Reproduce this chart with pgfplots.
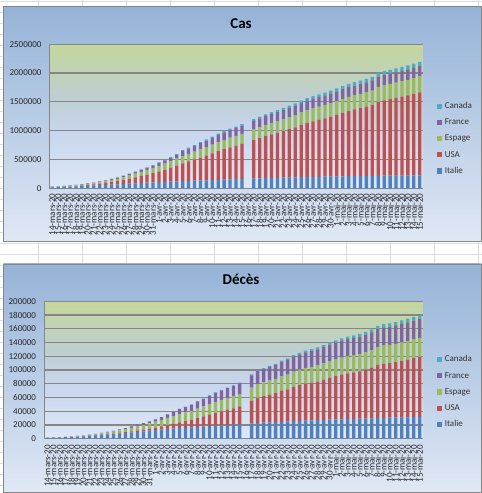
\documentclass[border=0pt]{standalone}
\usepackage{fontspec}
\setmainfont{Carlito}
\usepackage{pgfplots}
\pgfplotsset{compat=1.18}
\usepackage{pgfplotstable}

\definecolor{cIT}{HTML}{4F81BD}
\definecolor{cUS}{HTML}{C0504D}
\definecolor{cES}{HTML}{9BBB59}
\definecolor{cFR}{HTML}{8064A2}
\definecolor{cCA}{HTML}{4BACC6}
\definecolor{pb0}{RGB}{222,231,246}
\definecolor{pb1}{RGB}{199,214,238}
\definecolor{pb2}{RGB}{190,206,208}
\definecolor{pb3}{RGB}{196,215,155}
\definecolor{panTop}{RGB}{149,179,215}
\definecolor{panBot}{RGB}{224,232,245}
\definecolor{cellgrid}{RGB}{218,220,222}
\definecolor{gridc}{RGB}{134,134,134}

\pgfdeclareverticalshading{plotbg}{100bp}{color(0bp)=(pb0); color(25bp)=(pb0); color(45bp)=(pb1); color(57bp)=(pb2); color(75bp)=(pb3); color(100bp)=(pb3)}

% x: category index (0 = 14-mars-20), it, us, es, fr, ca
\pgfplotstableread{
x it us es fr ca
0 17660 2179 5232 3661 157
1 21157 2726 6391 4499 198
2 24747 3499 7798 5423 252
3 27980 4632 9942 6633 415
4 31506 6421 11748 7652 478
5 35713 7786 13910 9043 657
6 41035 13680 17963 10871 800
7 47021 19101 20410 12612 943
8 53578 25493 25374 14282 1277
9 59138 33276 28768 16018 1469
10 63927 43847 35136 19856 2088
11 69176 53740 39885 22304 2790
12 74386 65778 49515 25233 3251
13 80539 83836 57786 29155 4042
14 86498 101657 65719 32964 4682
15 92472 121465 73235 37575 5576
16 97689 140909 80110 40174 6280
17 101739 161831 87956 44550 7398
18 105792 188172 95923 52128 8527
19 110574 213242 104118 56989 9560
20 115242 243622 112065 59105 11284
21 119827 275367 119199 64338 12437
22 124632 308650 126168 89953 12978
23 128948 336802 131646 92839 15756
24 132547 366317 136675 98010 16563
25 135586 397121 141942 109069 17872
26 139422 428654 148220 112950 19141
27 143626 462780 153222 117749 20654
28 147577 496535 158273 124869 22059
29 152271 526396 163027 129654 23316
30 156363 555313 166831 132591 24298
31 159516 580619 170099 136779 25680
32 162488 607670 172541 143303 27035
34 168941 667592 184948 147969 30106
35 172434 699706 190839 149149 32412
36 175925 732197 191726 151793 33383
37 178972 758809 198674 152894 35056
38 181228 784326 200210 155393 36701
39 183957 811865 204178 158050 38422
40 187327 840351 208389 159297 40190
41 189973 869170 213024 159460 42110
42 192994 905358 219764 159877 43888
43 195351 938154 223759 161488 45354
44 197675 965785 226629 162220 46895
45 199414 988197 229422 165093 48033
46 201505 1012582 232128 165764 49616
47 203591 1039909 236899 165842 51150
48 205463 1069424 239369 166420 52865
49 207428 1103461 242988 167178 54457
50 209328 1132539 245567 167305 56343
51 210717 1158040 247122 168396 57926
52 211938 1180375 248301 168693 59474
53 213013 1204351 250561 169462 61159
54 214457 1229331 253682 174191 62458
55 217185 1283929 260117 176079 65538
56 218268 1309550 262783 176658 66780
57 219070 1329260 264663 176970 68002
58 219814 1347881 268143 177423 69156
59 221216 1369376 269520 178225 70091
60 222104 1390406 271095 178349 71264
61 223096 1417774 272646 178184 72419
62 223885 1442824 274367 179506 73568
}\cases

\pgfplotstableread{
x it us es fr ca
0 1266 47 133 79 1
1 1441 54 195 91 1
2 1809 63 289 127 1
3 2158 85 342 148 4
4 2503 108 533 175 5
5 2978 118 623 264 8
6 3405 200 830 372 9
7 4032 244 1043 450 12
8 4825 307 1375 562 19
9 5476 427 1772 674 21
10 6077 552 2311 860 25
11 6820 706 2808 1100 26
12 7503 942 3647 1331 30
13 8215 1209 4365 1696 38
14 9134 1581 5138 1995 54
15 10023 2026 5982 2314 61
16 10779 2467 6803 2606 64
17 11591 2978 7716 3024 80
18 12428 3873 8464 3523 101
19 13155 4757 9387 4032 109
20 13915 5926 10348 5387 139
21 14681 7087 11198 6507 179
22 15362 8407 11947 7560 218
23 15887 9619 12641 8078 259
24 16523 10783 13341 8911 339
25 17127 12722 14045 10328 375
26 17669 14695 14792 10869 407
27 18279 16478 15447 12210 503
28 18849 18586 16081 13197 557
29 19468 20463 16606 13832 654
30 19899 22020 17209 14393 714
31 20465 23529 17756 14967 781
32 21067 25832 18056 15729 899
34 22170 32916 19315 17920 1257
35 22745 36773 20002 18681 1354
36 23227 38664 20043 19323 1399
37 23660 40661 20453 19718 1563
38 24114 42094 20852 20265 1725
39 24648 44845 21282 20796 1908
40 25085 46622 21717 21340 2075
41 25549 49954 22157 21856 2251
42 25969 51949 22524 22245 2421
43 26384 53755 22902 22614 2617
44 26644 54881 23190 22856 2728
45 26977 56259 23521 23293 2809
46 27359 58355 23822 23660 2996
47 27682 60967 24275 24087 3194
48 27967 62996 24543 24376 3310
49 28236 64943 24824 24594 3546
50 28710 66369 25100 24760 3682
51 28884 67682 25264 24895 3766
52 29079 68922 25428 25201 3854
53 29315 71064 25613 25531 4043
54 29684 73455 25857 25809 4167
55 30201 77180 26299 26230 4485
56 30395 78795 26478 26310 4631
57 30560 79526 26621 26380 4691
58 30739 80682 26744 26643 4906
59 30911 82376 26920 26991 5051
60 31106 84119 27104 27074 5209
61 31368 85898 27321 27425 5337
62 31610 87530 27459 27529 5475
}\deces

\pgfplotsset{
  datelabels/.style={xticklabels={14-mars-20,15-mars-20,16-mars-20,17-mars-20,18-mars-20,19-mars-20,20-mars-20,21-mars-20,22-mars-20,23-mars-20,24-mars-20,25-mars-20,26-mars-20,27-mars-20,28-mars-20,29-mars-20,30-mars-20,31-mars-20,1-avr-20,2-avr-20,3-avr-20,4-avr-20,5-avr-20,6-avr-20,7-avr-20,8-avr-20,9-avr-20,10-avr-20,11-avr-20,12-avr-20,13-avr-20,14-avr-20,15-avr-20,16-avr-20,17-avr-20,18-avr-20,19-avr-20,20-avr-20,21-avr-20,22-avr-20,23-avr-20,24-avr-20,25-avr-20,26-avr-20,27-avr-20,28-avr-20,29-avr-20,30-avr-20,1-mai-20,2-mai-20,3-mai-20,4-mai-20,5-mai-20,6-mai-20,7-mai-20,8-mai-20,9-mai-20,10-mai-20,11-mai-20,12-mai-20,13-mai-20,14-mai-20,15-mai-20}},
  excelbar/.style={
    scale only axis, ybar stacked, bar width=3.3pt,
    xmin=-0.5, xmax=62.5, ymin=0, enlargelimits=false,
    scaled y ticks=false,
    xtick={0,...,62}, datelabels,
    axis x line*=bottom, axis y line*=left,
    axis line style={draw=gridc, line width=0.8pt, -},
    ymajorgrids, grid style={draw=gridc, line width=1.2pt},
    major tick length=0pt,
    tick label style={font=\fontsize{9}{10}\selectfont, text=black!85},
    xticklabel style={rotate=90, anchor=east, inner sep=0pt},
    yticklabel style={anchor=east, inner sep=0pt},
    axis background/.style={shade, shading=plotbg},
    reverse legend, legend cell align=left,
    legend style={draw=none, fill=none, anchor=west, inner sep=0pt,
      font=\fontsize{9}{10}\selectfont, text=black!80, row sep=7.9pt,
      nodes={inner sep=0pt, text height=6.5pt, text depth=1.8pt},
      /tikz/every odd column/.append style={column sep=2.4pt}},
    legend image code/.code={\fill[##1,draw=none] (0pt,-2.6pt) rectangle (5.2pt,2.6pt);},
  },
}

\begin{document}
\begin{tikzpicture}
\path[use as bounding box] (0pt,0pt) rectangle (482pt,493pt);
\clip (0pt,0pt) rectangle (482pt,493pt);
\begin{scope}[x=1pt,y=1pt]
\fill[white] (0,0) rectangle (482,493);
% spreadsheet cells
\foreach \k in {0,...,10} {\draw[cellgrid, line width=0.8pt] ({38.3+44*\k},0) -- ({38.3+44*\k},493);}
\foreach \k in {0,...,44} {\draw[cellgrid, line width=0.8pt] (0,{493-1.3-11*\k}) -- (482,{493-1.3-11*\k});}
% panels
\shade[top color=panTop, bottom color=panBot] (3.3,251.3) rectangle (481.3,486.3);
\draw[gridc, line width=0.8pt] (3.3,251.3) rectangle (481.3,486.3);
\shade[top color=panTop, bottom color=panBot] (3.3,0.7) rectangle (481.3,229);
\draw[gridc, line width=0.8pt] (3.3,0.7) rectangle (481.3,229);
\node[anchor=base, inner sep=0pt, font=\fontsize{15}{18}\selectfont\bfseries] at (241,464.7) {Cas};
\node[anchor=base, inner sep=0pt, font=\fontsize{15}{18}\selectfont\bfseries] at (241,208.7) {Décès};
\end{scope}

\begin{axis}[excelbar,
  at={(49.3pt,304.7pt)}, anchor=south west, width=373.4pt, height=144pt,
  ymax=2500000, ytick={0,500000,1000000,1500000,2000000,2500000},
  yticklabels={0,500000,1000000,1500000,2000000,2500000},
  xticklabel shift=5pt, yticklabel shift=7.6pt,
  legend style={at={(1.0383,0.3458)}},
]
\addplot[fill=cIT, draw=none] table[x=x, y=it]{\cases};
\addplot[fill=cUS, draw=none] table[x=x, y=us]{\cases};
\addplot[fill=cES, draw=none] table[x=x, y=es]{\cases};
\addplot[fill=cFR, draw=none] table[x=x, y=fr]{\cases};
\addplot[fill=cCA, draw=none] table[x=x, y=ca]{\cases};
\legend{Italie,USA,Espage,France,Canada}
\end{axis}

\begin{axis}[excelbar,
  at={(44.5pt,54.3pt)}, anchor=south west, width=378.2pt, height=137.4pt,
  ymax=200000, ytick={0,20000,...,200000},
  yticklabels={0,20000,40000,60000,80000,100000,120000,140000,160000,180000,200000},
  xticklabel shift=6.3pt, yticklabel shift=8.3pt,
  legend style={at={(1.0378,0.34)}},
]
\addplot[fill=cIT, draw=none] table[x=x, y=it]{\deces};
\addplot[fill=cUS, draw=none] table[x=x, y=us]{\deces};
\addplot[fill=cES, draw=none] table[x=x, y=es]{\deces};
\addplot[fill=cFR, draw=none] table[x=x, y=fr]{\deces};
\addplot[fill=cCA, draw=none] table[x=x, y=ca]{\deces};
\legend{Italie,USA,Espage,France,Canada}
\end{axis}
\end{tikzpicture}
\end{document}
